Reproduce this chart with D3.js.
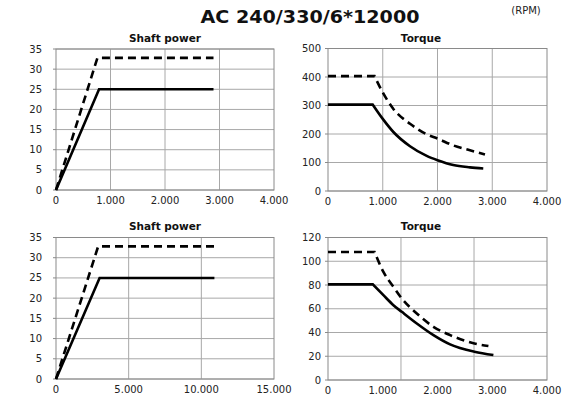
<!DOCTYPE html>
<html><head><meta charset="utf-8">
<script src="https://cdn.jsdelivr.net/npm/d3@7"></script>
<style>
html,body{margin:0;padding:0;background:#fff;}
svg{display:block;font-family:"DejaVu Sans",sans-serif;}
</style></head>
<body><svg id="c" width="580" height="403"></svg>
<script>
// ---- data ----
const mainTitle = "AC 240/330/6*12000";
const unitLabel = "(RPM)";
const panelTitles = ["Shaft power", "Torque", "Shaft power", "Torque"];

// Panel 1: shaft power (kW) vs rpm
const p1Ticks = [0, 1000, 2000, 3000, 4000];
const p1Grid = [1000, 2000, 3000];
const p1YTicks = [0, 5, 10, 15, 20, 25, 30, 35];
const p1SolidX = [0, 790, 2890];
const p1SolidY = [0, 25, 25];
const p1DashX = [0, 760, 2890];
const p1DashY = [0, 32.8, 32.8];

// Panel 2: torque (Nm) vs rpm
const p2Ticks = [0, 1000, 2000, 3000, 4000];
const p2Grid = [1000, 2000, 3000];
const p2YTicks = [0, 100, 200, 300, 400, 500];
const p2SolidX = [0, 817, 1000, 1194, 1498, 1803, 2000, 2288, 2593, 2836];
const p2SolidY = [303, 303, 253, 207, 157, 123, 108, 91, 83, 79];
const p2DashX = [0, 850, 1000, 1194, 1498, 1803, 2000, 2288, 2593, 2867];
const p2DashY = [403, 403, 346, 288, 236, 199, 184, 160, 143, 128];

// Panel 3: shaft power (kW) vs rpm
const p3Ticks = [0, 5000, 10000, 15000];
const p3Grid = [5000, 10000];
const p3YTicks = [0, 5, 10, 15, 20, 25, 30, 35];
const p3SolidX = [0, 3000, 10900];
const p3SolidY = [0, 25, 25];
const p3DashX = [0, 2900, 10900];
const p3DashY = [0, 32.8, 32.8];

// Panel 4: torque (Nm) vs rpm
const p4Ticks = [0, 1000, 2000, 3000, 4000];
const p4Grid = [1333, 2667];
const p4YTicks = [0, 20, 40, 60, 80, 100, 120];
const p4SolidX = [0, 818, 1012, 1195, 1348, 1622, 1926, 2230, 2674, 3021];
const p4SolidY = [80.5, 80.5, 71.4, 63, 57.4, 47.6, 37.8, 30, 23.8, 21];
const p4DashX = [0, 850, 1012, 1195, 1348, 1622, 1926, 2230, 2674, 2930];
const p4DashY = [107.8, 107.8, 91, 78.4, 68.6, 56, 44.8, 37.8, 30.8, 28.6];

// ---- drawing ----
const svg = d3.select("#c");
const loc = d3.formatLocale({decimal: ",", thousands: ".", grouping: [3], currency: ["", ""]});
const fmt = loc.format(",d");

svg.append("text").attr("x", 310).attr("y", 23).attr("text-anchor", "middle")
  .attr("font-size", 18).attr("font-weight", "bold").attr("fill", "#111")
  .attr("textLength", 219).attr("lengthAdjust", "spacingAndGlyphs").text(mainTitle);
svg.append("text").attr("x", 526).attr("y", 14).attr("text-anchor", "middle")
  .attr("font-size", 10).attr("fill", "#222").text(unitLabel);

const panels = [
  {L:56, R:274, T:49, B:190, xMax:4000, yMax:35, xt:p1Ticks, grid:p1Grid, yt:p1YTicks,
   sx:p1SolidX, sy:p1SolidY, dx:p1DashX, dy:p1DashY, title:panelTitles[0], tx:165, ty:42, labR:42, curve:false},
  {L:328, R:547, T:48.5, B:191, xMax:4000, yMax:500, xt:p2Ticks, grid:p2Grid, yt:p2YTicks,
   sx:p2SolidX, sy:p2SolidY, dx:p2DashX, dy:p2DashY, title:panelTitles[1], tx:421, ty:42, labR:321, curve:true},
  {L:56, R:274, T:237.5, B:379, xMax:15000, yMax:35, xt:p3Ticks, grid:p3Grid, yt:p3YTicks,
   sx:p3SolidX, sy:p3SolidY, dx:p3DashX, dy:p3DashY, title:panelTitles[2], tx:165, ty:230, labR:42, curve:false},
  {L:328, R:547, T:237.5, B:380, xMax:4000, yMax:120, xt:p4Ticks, grid:p4Grid, yt:p4YTicks,
   sx:p4SolidX, sy:p4SolidY, dx:p4DashX, dy:p4DashY, title:panelTitles[3], tx:421, ty:230, labR:321, curve:true}
];

panels.forEach(p => {
  const x = d3.scaleLinear().domain([0, p.xMax]).range([p.L, p.R]);
  const y = d3.scaleLinear().domain([0, p.yMax]).range([p.B, p.T]);
  const g = svg.append("g");
  g.selectAll(".hg").data(p.yt).join("line")
    .attr("x1", p.L).attr("x2", p.R).attr("y1", d => y(d)).attr("y2", d => y(d))
    .attr("stroke", "#a8a8a8").attr("stroke-width", 1);
  g.selectAll(".vg").data(p.grid).join("line")
    .attr("x1", d => x(d)).attr("x2", d => x(d)).attr("y1", p.T).attr("y2", p.B)
    .attr("stroke", "#a8a8a8").attr("stroke-width", 1);
  g.append("rect").attr("x", p.L).attr("y", p.T).attr("width", p.R - p.L).attr("height", p.B - p.T)
    .attr("fill", "none").attr("stroke", "#8a8a8a").attr("stroke-width", 1);
  g.selectAll(".ytm").data(p.yt).join("line")
    .attr("x1", p.L - 3).attr("x2", p.L).attr("y1", d => y(d)).attr("y2", d => y(d))
    .attr("stroke", "#8a8a8a");
  g.selectAll(".yl").data(p.yt).join("text")
    .attr("x", p.labR).attr("y", d => y(d) + 3.5).attr("text-anchor", "end")
    .attr("font-size", 10).attr("fill", "#222").text(d => fmt(d));
  g.selectAll(".xl").data(p.xt).join("text")
    .attr("x", d => x(d)).attr("y", p.B + 14).attr("text-anchor", "middle")
    .attr("font-size", 10).attr("fill", "#222").text(d => fmt(d));
  g.append("text").attr("x", p.tx).attr("y", p.ty).attr("text-anchor", "middle")
    .attr("font-size", 10.5).attr("font-weight", "bold").attr("fill", "#111").text(p.title);
  function pathFor(xs, ys) {
    const pts = xs.map((v, i) => [x(v), y(ys[i])]);
    if (!p.curve) return d3.line()(pts);
    const head = d3.line()(pts.slice(0, 2));
    const tail = d3.line().curve(d3.curveMonotoneX)(pts.slice(1));
    return head + "L" + tail.slice(1);
  }
  g.append("path").attr("d", pathFor(p.dx, p.dy)).attr("fill", "none")
    .attr("stroke", "#000").attr("stroke-width", 2.6).attr("stroke-dasharray", "8,5");
  g.append("path").attr("d", pathFor(p.sx, p.sy)).attr("fill", "none")
    .attr("stroke", "#000").attr("stroke-width", 2.6);
});
</script></body></html>
